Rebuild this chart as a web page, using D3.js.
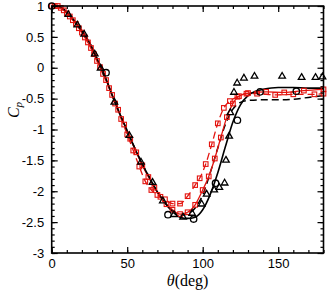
<!DOCTYPE html>
<html><head><meta charset="utf-8">
<script src="https://cdn.jsdelivr.net/npm/d3@7"></script>
<style>body{margin:0;background:#fff} svg{display:block}</style>
</head><body>
<svg id="c" width="327" height="292"></svg>
<script>
// ---- data ----
const xTickValues = [0, 50, 100, 150];
const xMinorTicks = [0,10,20,30,40,50,60,70,80,90,100,110,120,130,140,150,160,170,180];
const yTickValues = [1, 0.5, 0, -0.5, -1, -1.5, -2, -2.5, -3];
const yTickLabels = ["1","0.5","0","-0.5","-1","-1.5","-2","-2.5","-3"];

const blackSolidTheta = [0,5,10,15,20,25,30,35,40,45,50,55,60,65,70,75,80,85,90,95,100,105,110,115,120,125,130,135,140,150,160,170,180];
const blackSolidCp    = [1.00,0.99,0.90,0.76,0.60,0.41,0.15,-0.12,-0.44,-0.74,-1.02,-1.30,-1.56,-1.79,-2.01,-2.19,-2.33,-2.42,-2.44,-2.42,-2.30,-2.05,-1.70,-1.28,-0.88,-0.60,-0.45,-0.38,-0.35,-0.32,-0.32,-0.33,-0.33];

const blackDashTheta = [0,5,10,15,20,25,30,35,40,45,50,55,60,65,70,75,80,85,90,95,100,105,110,115,120,125,130,140,150,160,170,180];
const blackDashCp    = [1.00,0.99,0.90,0.76,0.60,0.41,0.15,-0.12,-0.44,-0.74,-1.02,-1.30,-1.56,-1.79,-2.01,-2.18,-2.32,-2.39,-2.37,-2.27,-2.06,-1.70,-1.30,-0.92,-0.67,-0.56,-0.53,-0.52,-0.52,-0.51,-0.48,-0.45];

const redSolidTheta = [0,4,8,12,16,20,24,28,32,36,40,44,48,52,56,60,64,68,72,76,80,85,90,95,100,104,108,112,116,120,124,130,142,154,167,180];
const redSolidCp    = [1.00,1.00,0.93,0.83,0.71,0.57,0.41,0.22,0.01,-0.20,-0.44,-0.68,-0.92,-1.15,-1.37,-1.58,-1.77,-1.94,-2.09,-2.21,-2.30,-2.37,-2.34,-2.22,-1.98,-1.76,-1.47,-1.13,-0.80,-0.58,-0.46,-0.41,-0.39,-0.40,-0.37,-0.35];

const redDashTheta = [2,6,10,14,18,22,26,30,34,38,42,46,50,54,58,62,66,70,75,80,85,90,95,98,102,106,110,114,118,123,129,136,148,160,174,180];
const redDashCp    = [1.00,0.97,0.88,0.77,0.64,0.49,0.32,0.11,-0.10,-0.33,-0.58,-0.83,-1.08,-1.34,-1.60,-1.84,-1.98,-2.06,-2.13,-2.20,-2.20,-2.08,-1.90,-1.79,-1.56,-1.24,-0.90,-0.65,-0.54,-0.47,-0.42,-0.42,-0.44,-0.43,-0.43,-0.42];

const triTheta = [11,17,21.5,28.5,32.4,41.5,51.4,59.1,66.8,73.6,81,87,93,99.3,102.6,107.6,111,114.5,115.4,117.5,118.3,120.7,122.8,127.3,134.3,152.6,165.5,174.7,179.3];
const triCp    = [0.87,0.70,0.55,0.23,0.00,-0.55,-1.09,-1.52,-1.85,-2.15,-2.37,-2.41,-2.35,-2.20,-2.04,-1.97,-1.93,-1.86,-1.49,-1.10,-0.72,-0.39,-0.24,-0.16,-0.13,-0.13,-0.15,-0.15,-0.14];

const circTheta = [0,36,77,94,108.5,123,138,162];
const circCp    = [1.00,-0.08,-2.38,-2.45,-1.87,-0.85,-0.39,-0.38];

// ---- drawing ----
const svg = d3.select("#c");
const L = 51.7, R = 323.5, T = 6, B = 253;
const x = d3.scaleLinear().domain([0,180]).range([L,R]);
const y = d3.scaleLinear().domain([-3,1]).range([B,T]);
const red = "#e3140f";
const font = "'Liberation Sans', Arial, Helvetica, sans-serif";
const serif = "'Liberation Serif','Times New Roman',serif";

function zip(a,b){ return a.map((v,i)=>[v,b[i]]); }
const line = d3.line().x(d=>x(d[0])).y(d=>y(d[1])).curve(d3.curveMonotoneX);

const plot = svg.append("g");
plot.append("path").datum(zip(blackDashTheta,blackDashCp)).attr("d",line)
  .attr("fill","none").attr("stroke","#000").attr("stroke-width",1.5).attr("stroke-dasharray","7,4");
plot.append("path").datum(zip(redDashTheta,redDashCp)).attr("d",line)
  .attr("fill","none").attr("stroke",red).attr("stroke-width",1.3).attr("stroke-dasharray","7,4");
plot.append("path").datum(zip(redSolidTheta,redSolidCp)).attr("d",line)
  .attr("fill","none").attr("stroke",red).attr("stroke-width",1.3);
plot.append("path").datum(zip(blackSolidTheta,blackSolidCp)).attr("d",line)
  .attr("fill","none").attr("stroke","#000").attr("stroke-width",1.6);

const sq = 4.6;
[zip(redSolidTheta,redSolidCp), zip(redDashTheta,redDashCp)].forEach(pts=>{
  plot.append("g").selectAll("rect").data(pts).join("rect")
    .attr("x",d=>x(d[0])-sq/2).attr("y",d=>y(d[1])-sq/2)
    .attr("width",sq).attr("height",sq)
    .attr("fill","none").attr("stroke",red).attr("stroke-width",1.1);
});

const tri = d3.symbol().type(d3.symbolTriangle).size(19);
plot.append("g").selectAll("path").data(zip(triTheta,triCp)).join("path")
  .attr("d",tri).attr("transform",d=>`translate(${x(d[0])},${y(d[1])+0.5})`)
  .attr("fill","none").attr("stroke","#000").attr("stroke-width",1.3);

plot.append("g").selectAll("circle").data(zip(circTheta,circCp)).join("circle")
  .attr("cx",d=>x(d[0])).attr("cy",d=>y(d[1])).attr("r",3.2)
  .attr("fill","none").attr("stroke","#000").attr("stroke-width",1.3);

// axes (ticks inward on all four sides)
function styleAxis(g){ g.select(".domain").remove(); g.selectAll("line").attr("stroke","#000").attr("stroke-width",1.2); g.selectAll("text").attr("font-family",font).attr("font-size",13).attr("fill","#000"); }

svg.append("g").attr("transform",`translate(0,${B})`)
  .call(d3.axisBottom(x).tickValues(xMinorTicks).tickSize(-3).tickFormat(""))
  .call(styleAxis);
svg.append("g").attr("transform",`translate(0,${B})`)
  .call(d3.axisBottom(x).tickValues(xTickValues).tickSize(-6).tickPadding(6).tickFormat(d3.format("d")))
  .call(styleAxis);
svg.append("g").attr("transform",`translate(0,${T})`)
  .call(d3.axisTop(x).tickValues(xMinorTicks).tickSize(-3).tickFormat(""))
  .call(styleAxis);
svg.append("g").attr("transform",`translate(0,${T})`)
  .call(d3.axisTop(x).tickValues(xTickValues).tickSize(-6).tickFormat(""))
  .call(styleAxis);

const yMinor = d3.range(-3,1.0001,0.1).map(v=>+v.toFixed(2));
svg.append("g").attr("transform",`translate(${L},0)`)
  .call(d3.axisLeft(y).tickValues(yMinor).tickSize(-3).tickFormat(""))
  .call(styleAxis);
svg.append("g").attr("transform",`translate(${L},0)`)
  .call(d3.axisLeft(y).tickValues(yTickValues).tickSize(-6).tickPadding(7.5).tickFormat((d,i)=>yTickLabels[i]))
  .call(styleAxis);
svg.append("g").attr("transform",`translate(${R},0)`)
  .call(d3.axisRight(y).tickValues(yMinor).tickSize(-3).tickFormat(""))
  .call(styleAxis);
svg.append("g").attr("transform",`translate(${R},0)`)
  .call(d3.axisRight(y).tickValues(yTickValues).tickSize(-6).tickFormat(""))
  .call(styleAxis);

svg.append("rect").attr("x",L).attr("y",T).attr("width",R-L).attr("height",B-T)
  .attr("fill","none").attr("stroke","#000").attr("stroke-width",1.6);

// axis titles
const xt = svg.append("text").attr("x",(L+R)/2).attr("y",286).attr("text-anchor","middle")
  .attr("font-family",serif).attr("font-size",16);
xt.append("tspan").attr("font-style","italic").text("θ");
xt.append("tspan").text("(deg)");

const yt = svg.append("text").attr("transform","translate(19,110) rotate(-90)").attr("text-anchor","middle")
  .attr("font-family",serif).attr("font-size",16);
yt.append("tspan").attr("font-style","italic").text("C");
yt.append("tspan").attr("font-style","italic").attr("font-size",11).attr("dy",3).text("p");
</script>
</body></html>
